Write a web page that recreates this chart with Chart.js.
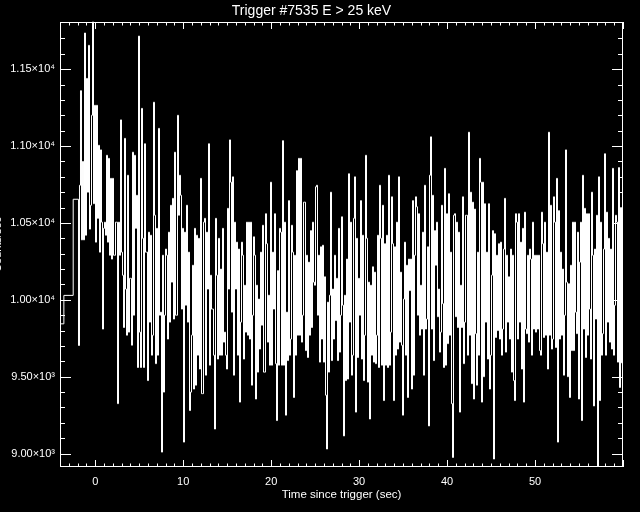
<!DOCTYPE html>
<html>
<head>
<meta charset="utf-8">
<title>Trigger #7535 E &gt; 25 keV</title>
<script src="https://cdn.jsdelivr.net/npm/chart.js@4.4.1/dist/chart.umd.min.js"></script>
<style>
  html, body { margin: 0; padding: 0; background: #000; }
  canvas { display: block; }
</style>
</head>
<body>
<canvas id="lc" width="640" height="512"></canvas>
<script>
// coarse bins before the burst: start time (s) and rate
const preTimes = [-4.6, -3.56, -2.5];
const preRate = [9844, 10029, 10654];

// fine bins starting at T_FINE, BIN seconds wide
const T_FINE = -1.897;
const BIN = 0.11368;
const T_END = 60;
const rate = [
  9703, 10745, 11360, 10390, 10900, 10390, 11735, 10420, 11440, 10700,
  11655, 10460, 10615, 11200, 11900, 10625, 11265, 10375, 11265, 10530,
  11005, 10310, 10975, 10505, 9810, 10465, 10505, 10420, 10940, 10375,
  10920, 10290, 10790, 10265, 10790, 10290, 10290, 10505, 10505, 9325,
  10505, 10290, 11170, 10310, 10160, 9820, 11050, 10070, 9770, 10810,
  9790, 10140, 10140, 9705, 10960, 9900, 10940, 10465, 10680, 9560,
  11715, 9790, 9560, 11245, 10400, 9560, 11015, 10310, 10310, 9475,
  10440, 9855, 10420, 9640, 9770, 11285, 10550, 9585, 10465, 9640,
  11115, 9900, 9920, 9010, 10290, 9400, 9900, 10330, 10290, 9745,
  10440, 9855, 10615, 10115, 10660, 9875, 10960, 9900, 9900, 11200,
  10550, 10810, 10680, 9940, 10465, 9075, 10440, 9965, 10615, 9855,
  10310, 9280, 9400, 9770, 10225, 9420, 10465, 9445, 10420, 9640,
  10400, 9550, 10790, 9390, 9390, 10505, 10530, 9510, 10440, 10070,
  11015, 9575, 10160, 9940, 9940, 9640, 9160, 10530, 10160, 9615,
  10400, 9640, 10200, 9640, 10465, 9725, 9790, 9640, 9550, 10595,
  10070, 11040, 10765, 9920, 10800, 9510, 10505, 10070, 10375, 9640,
  10330, 9335, 9855, 10375, 10290, 9615, 10095, 9790, 10505, 9770,
  10505, 9745, 10505, 9445, 9900, 10410, 10290, 9355, 10095, 9530,
  10005, 9680, 10310, 9835, 10485, 9530, 9530, 10560, 10365, 9725,
  10030, 9575, 10765, 9575, 10310, 9940, 10560, 9585, 9215, 10190,
  9575, 10465, 10440, 9575, 11035, 9575, 10505, 9250, 9920, 9605,
  10645, 9640, 9745, 10485, 10310, 9365, 10290, 9640, 10840, 9770,
  10920, 9770, 10920, 9725, 9900, 10635, 10635, 9670, 10290, 9625,
  10245, 9770, 10450, 9820, 10505, 10115, 10095, 10735, 10745, 9900,
  10290, 9595, 10345, 9745, 10355, 9595, 10150, 9380, 9030, 9985,
  9530, 10030, 10700, 9605, 10070, 9745, 10290, 9865, 10140, 9605,
  10465, 9660, 9900, 10540, 9965, 9115, 10030, 9475, 10265, 9485,
  10820, 9855, 10505, 9510, 9640, 10530, 10800, 9270, 10400, 9625,
  10140, 9900, 10645, 9615, 10420, 9475, 9770, 10940, 10400, 9465,
  10115, 9225, 10095, 9640, 10215, 9595, 10180, 9585, 9770, 10420,
  9560, 10745, 10400, 9575, 10615, 9345, 10365, 9575, 10420, 9560,
  10810, 9575, 9790, 10670, 10365, 9345, 10345, 9640, 10505, 9680,
  10800, 9725, 10180, 9705, 9250, 10005, 10375, 9640, 10225, 9365,
  10265, 10060, 10265, 9420, 10645, 9510, 10290, 10670, 10605, 9900,
  10560, 9770, 10095, 9810, 10440, 9510, 10745, 9810, 9875, 10345,
  9180, 10810, 11060, 9810, 10680, 9605, 10450, 10225, 10505, 9890,
  10070, 9660, 9790, 10615, 9975, 9560, 10855, 9575, 10560, 9715,
  10690, 9770, 10310, 9325, 8975, 10550, 10560, 9890, 10505, 9820,
  10440, 9270, 10095, 9820, 10670, 9585, 9855, 10550, 10550, 9640,
  11090, 9770, 10700, 9455, 10635, 9355, 10590, 9780, 9445, 10310,
  9640, 10920, 10765, 9335, 10765, 9500, 10625, 9855, 10310, 9615,
  10625, 9420, 9640, 10160, 10450, 8965, 10430, 9755, 10290, 9800,
  10365, 9745, 10375, 9640, 9810, 10330, 10660, 9660, 10290, 9855,
  10150, 9745, 10330, 9530, 10290, 9475, 9345, 10560, 10505, 9745,
  10560, 9855, 10375, 9550, 10465, 9335, 10570, 9810, 9780, 10290,
  9725, 10330, 10265, 9640, 10505, 9810, 10290, 9790, 10290, 9810,
  10290, 9670, 9640, 10570, 10365, 9755, 10505, 9770, 10310, 9550,
  11090, 9770, 10615, 9680, 9745, 10670, 10505, 9690, 10790, 9075,
  10580, 9745, 10310, 9770, 10200, 9510, 9900, 10975, 10115, 9500,
  10105, 9365, 10225, 9670, 10505, 9670, 10505, 9920, 9780, 10440,
  9355, 10245, 10505, 9215, 10810, 9810, 10595, 9625, 10560, 9770,
  10560, 9940, 9615, 10700, 10290, 9310, 10330, 9875, 10550, 8850,
  10800, 9345, 10505, 9640, 9780, 10330, 10950, 9640, 10570, 9855,
  10400, 9725, 10330, 9680, 10855, 9640, 9965, 10550, 10505, 9595,
  10860, 9430, 10600, 9590
];

const xTickValues = [0, 10, 20, 30, 40, 50];
const yTickValues = [9000, 9500, 10000, 10500, 11000, 11500];
const yTickLabels = ['9.00×10³', '9.50×10³', '1.00×10⁴', '1.05×10⁴', '1.10×10⁴', '1.15×10⁴'];

const X_MIN = -4, X_MAX = 60;
const Y_MIN = 8913, Y_MAX = 11808;

const FONT = '"Liberation Sans", Arial, sans-serif';

const points = preTimes.map((t, i) => ({ x: t, y: preRate[i] }));
rate.forEach((r, i) => points.push({ x: T_FINE + i * BIN, y: r }));
points.push({ x: T_END, y: rate[rate.length - 1] });

// IDL-like frame with inward ticks on all four sides, plus clipped y title
const idlAxes = {
  id: 'idlAxes',
  afterDraw(chart) {
    const { ctx, chartArea: a, scales: { x, y } } = chart;
    const left = Math.round(a.left), right = Math.round(a.right);
    const top = Math.round(a.top), bottom = Math.round(a.bottom);
    ctx.save();
    ctx.strokeStyle = '#fff';
    ctx.lineWidth = 1;
    ctx.beginPath();
    x.ticks.forEach((t) => {
      if (!Number.isInteger(t.value)) return;
      const px = Math.round(x.getPixelForValue(t.value)) + 0.5;
      const len = t.value % 10 === 0 ? 7 : 3.5;
      ctx.moveTo(px, bottom); ctx.lineTo(px, bottom - len);
      ctx.moveTo(px, top); ctx.lineTo(px, top + len);
    });
    y.ticks.forEach((t) => {
      if (t.value % 100 !== 0) return;
      const py = Math.round(y.getPixelForValue(t.value)) + 0.5;
      const len = t.value % 500 === 0 ? 11 : 5;
      ctx.moveTo(left, py); ctx.lineTo(left + len, py);
      ctx.moveTo(right, py); ctx.lineTo(right - len, py);
    });
    ctx.stroke();
    ctx.strokeRect(left + 0.5, top + 0.5, right - left - 1, bottom - top - 1);

    ctx.fillStyle = '#fff';
    ctx.font = '11px ' + FONT;
    ctx.translate(1, (top + bottom) / 2);
    ctx.rotate(-Math.PI / 2);
    ctx.textAlign = 'center';
    ctx.fillText('Counts/sec', 0, 0);
    ctx.restore();
  }
};

new Chart(document.getElementById('lc'), {
  type: 'line',
  data: {
    datasets: [{
      data: points,
      borderColor: '#fff',
      borderWidth: 1,
      pointRadius: 0,
      // each value holds from its own time until the next point
      stepped: 'before',
      fill: false
    }]
  },
  options: {
    responsive: false,
    animation: false,
    events: [],
    layout: { padding: { top: 0, right: 17, bottom: 0, left: 0 } },
    plugins: {
      legend: { display: false },
      tooltip: { enabled: false },
      title: {
        display: true,
        text: 'Trigger #7535 E > 25 keV',
        color: '#fff',
        font: { family: FONT, size: 14, weight: 'normal' },
        padding: { top: 3, bottom: 2 }
      }
    },
    scales: {
      x: {
        type: 'linear',
        min: X_MIN,
        max: X_MAX,
        grid: { display: false, drawTicks: false },
        border: { display: false },
        ticks: {
          stepSize: 1,
          autoSkip: false,
          maxRotation: 0,
          padding: 8,
          color: '#fff',
          font: { family: FONT, size: 11 },
          callback: (v) => (xTickValues.includes(v) ? String(v) : '')
        },
        title: {
          display: true,
          text: 'Time since trigger (sec)',
          color: '#fff',
          font: { family: FONT, size: 11.5 },
          padding: { top: 0, bottom: 10 }
        },
        afterFit: (s) => { s.height = 45; }
      },
      y: {
        type: 'linear',
        min: Y_MIN,
        max: Y_MAX,
        grid: { display: false, drawTicks: false },
        border: { display: false },
        ticks: {
          // 50 keeps Chart.js from respacing ticks evenly between min and max
          stepSize: 50,
          autoSkip: false,
          padding: 5,
          color: '#fff',
          font: { family: FONT, size: 11 },
          callback: (v) => {
            const i = yTickValues.indexOf(v);
            return i >= 0 ? yTickLabels[i] : '';
          }
        },
        afterFit: (s) => { s.width = 60; }
      }
    }
  },
  plugins: [idlAxes]
});
</script>
</body>
</html>
